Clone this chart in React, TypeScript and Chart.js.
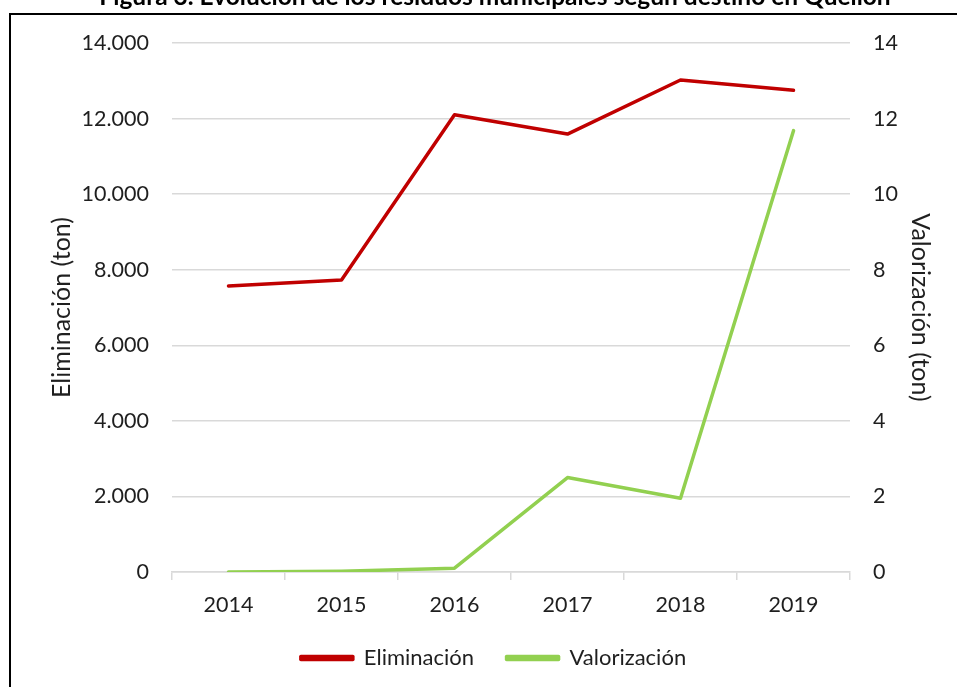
import React, { useEffect, useRef } from 'react';
import { Chart, registerables } from 'chart.js';

Chart.register(...registerables);

const categories = ['2014', '2015', '2016', '2017', '2018', '2019'];
const eliminacion = [7570, 7730, 12100, 11590, 13020, 12750];
const valorizacion = [0, 0.02, 0.1, 2.5, 1.95, 11.68];
const seriesNames = ['Eliminación', 'Valorización'];
const leftTitle = 'Eliminación (ton)';
const rightTitle = 'Valorización (ton)';
const figureTitle = 'Figura 3. Evolución de los residuos municipales según destino en Quellón';

const FONT = 'Lato';
const TEXT = '#1f1f1f';
const GRID = '#d9d9d9';
const CLEAR = 'rgba(0,0,0,0)';

function fmtThousands(v: number): string {
  return String(Math.round(v)).replace(/\B(?=(\d{3})+(?!\d))/g, '.');
}

export default function App() {
  const ref = useRef<HTMLCanvasElement>(null);

  useEffect(() => {
    if (!ref.current) return;
    const chart = new Chart(ref.current, {
      type: 'line',
      data: {
        labels: categories,
        datasets: [
          {
            label: seriesNames[0],
            data: eliminacion,
            borderColor: '#c00000',
            backgroundColor: '#c00000',
            borderWidth: 3.5,
            pointRadius: 0,
            tension: 0,
            borderCapStyle: 'round',
            borderJoinStyle: 'round',
            yAxisID: 'y',
          },
          {
            label: seriesNames[1],
            data: valorizacion,
            borderColor: '#92d050',
            backgroundColor: '#92d050',
            borderWidth: 3.5,
            pointRadius: 0,
            tension: 0,
            borderCapStyle: 'round',
            borderJoinStyle: 'round',
            yAxisID: 'y1',
          },
        ],
      },
      options: {
        responsive: false,
        animation: false,
        layout: { padding: { top: 28, bottom: 8, left: 19, right: 0 } },
        plugins: {
          title: { display: false },
          tooltip: { enabled: false },
          legend: {
            position: 'bottom',
            labels: {
              boxWidth: 52,
              boxHeight: 3,
              padding: 10,
              color: TEXT,
              font: { family: FONT, size: 22 },
              generateLabels: (c: any) => {
                const items = Chart.defaults.plugins.legend.labels.generateLabels(c);
                return items.map((it: any, i: number) =>
                  i < items.length - 1 ? { ...it, text: it.text + '    ' } : it
                );
              },
            },
          },
        },
        scales: {
          x: {
            offset: true,
            afterFit: (s: any) => { s.height = 65; },
            grid: {
              display: true,
              drawOnChartArea: false,
              drawTicks: true,
              tickLength: 8,
              color: GRID,
              lineWidth: 1.5,
              offset: true,
            },
            border: { display: true, color: GRID, width: 1.5 },
            ticks: { color: TEXT, font: { family: FONT, size: 21.5 }, padding: 12, maxRotation: 0 },
          },
          y: {
            position: 'left',
            min: 0,
            max: 14000,
            afterFit: (s: any) => { s.width = 142; },
            grid: { color: GRID, lineWidth: 1.5, drawTicks: true, tickLength: 23, tickColor: CLEAR },
            border: { display: false },
            ticks: {
              stepSize: 2000,
              padding: 0,
              color: TEXT,
              font: { family: FONT, size: 21.5 },
              callback: (v: any) => fmtThousands(Number(v)),
            },
            title: {
              display: true,
              text: leftTitle,
              color: TEXT,
              font: { family: FONT, size: 25 },
              padding: { top: 17, bottom: 0 },
            },
          },
          y1: {
            position: 'right',
            min: 0,
            max: 14,
            afterFit: (s: any) => { s.width = 107; },
            grid: { drawOnChartArea: false, drawTicks: true, tickLength: 23, tickColor: CLEAR, color: CLEAR },
            border: { display: false },
            ticks: {
              stepSize: 2,
              padding: 0,
              color: TEXT,
              font: { family: FONT, size: 21.5 },
            },
            title: {
              display: true,
              text: rightTitle,
              color: TEXT,
              font: { family: FONT, size: 25 },
              padding: { top: 22, bottom: 0 },
            },
          },
        },
      },
    });
    return () => chart.destroy();
  }, []);

  return (
    <div>
      <div
        style={{
          position: 'fixed',
          top: -16,
          left: 0,
          width: 990,
          textAlign: 'center',
          fontFamily: FONT,
          fontWeight: 'bold',
          fontSize: 24.5,
          lineHeight: '24.5px',
          color: '#000',
          whiteSpace: 'nowrap',
        }}
      >
        {figureTitle}
      </div>
      <div
        style={{
          position: 'fixed',
          left: 9,
          top: 13,
          width: 1000,
          height: 700,
          border: '2px solid #000',
          boxSizing: 'border-box',
        }}
      />
      <div style={{ position: 'fixed', left: 11, top: 15, width: 946, height: 672 }}>
        <canvas ref={ref} width={946} height={672} style={{ display: 'block', width: 946, height: 672 }} />
      </div>
    </div>
  );
}
